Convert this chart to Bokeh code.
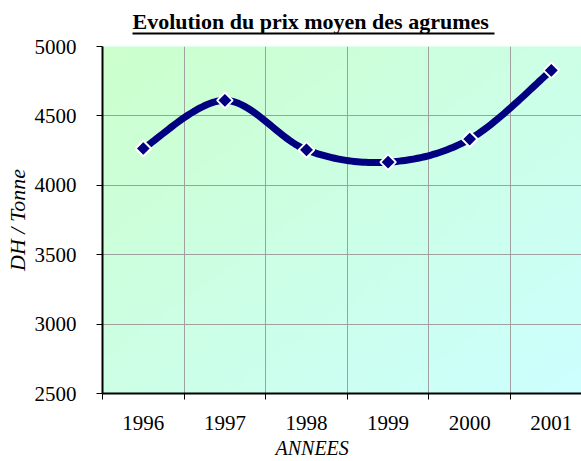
import numpy as np
from bokeh.plotting import figure
from bokeh.models import FixedTicker, Range1d, Title, LinearAxis
from bokeh.embed import file_html
from bokeh.resources import INLINE

# ---- data ----
years = ["1996", "1997", "1998", "1999", "2000", "2001"]
prices = [4265, 4612, 4255, 4167, 4333, 4828]
y_ticks = [2500, 3000, 3500, 4000, 4500, 5000]

title_text = "Evolution du prix moyen des agrumes"
x_title = "ANNEES"
y_title = "DH / Tonne"

SERIF = "Liberation Serif"
W, H = 581, 461
FRAME_L, FRAME_T, FRAME_B = 102, 46, 394
CAT_PX = 81.6

xs = [i + 0.5 for i in range(len(years))]
x_end = (W - FRAME_L) / CAT_PX

p = figure(width=W, height=H, output_backend="svg", toolbar_location=None,
           x_range=Range1d(0, x_end), y_range=Range1d(2500, 5000))
p.min_border_left = FRAME_L
p.min_border_right = 0
p.min_border_top = FRAME_T
p.min_border_bottom = H - FRAME_B
p.outline_line_color = None
p.background_fill_color = "#ccffe6"
p.border_fill_color = "white"

# gradient background (green top-left -> cyan bottom-right)
n = 64
u = np.linspace(0, 1, n)[None, :]
v = np.linspace(0, 1, n)[:, None]  # row 0 = bottom
g = (u + (1 - v)) / 2.0
b = 204 + (255 - 204) * g
img = np.empty((n, n), dtype=np.uint32)
view = img.view(dtype=np.uint8).reshape((n, n, 4))
view[:, :, 0] = 204
view[:, :, 1] = 255
view[:, :, 2] = b.astype(np.uint8)
view[:, :, 3] = 255
p.image_rgba(image=[img], x=0, y=2500, dw=x_end, dh=2500, level="image")

# axes
xa = p.xaxis[0]
xa.ticker = FixedTicker(ticks=xs, minor_ticks=list(range(0, len(years))))
xa.major_label_overrides = {x: yr for x, yr in zip(xs, years)}
xa.major_tick_line_color = None
xa.major_tick_out = 5
xa.minor_tick_in = 0
xa.minor_tick_out = 6
xa.minor_tick_line_color = "black"
xa.major_label_standoff = 16
xa.axis_line_color = "black"
xa.axis_line_width = 2
xa.major_label_text_font = SERIF
xa.major_label_text_font_size = "21px"
xa.major_label_text_color = "black"

ya = p.yaxis[0]
ya.ticker = FixedTicker(ticks=y_ticks, minor_ticks=[])
ya.major_tick_in = 0
ya.major_tick_out = 6
ya.major_tick_line_color = "black"
ya.major_label_standoff = 20
ya.axis_line_color = "black"
ya.axis_line_width = 2
ya.major_label_text_font = SERIF
ya.major_label_text_font_size = "21px"
ya.major_label_text_color = "black"

p.xgrid.ticker = FixedTicker(ticks=list(range(1, len(years))))
p.xgrid.grid_line_color = "#a0a0a0"
p.ygrid.ticker = FixedTicker(ticks=y_ticks)
p.ygrid.grid_line_color = "#a0a0a0"

# title with underline: spacer axis, underline axis (bounded line), then title text
spacer = LinearAxis(ticker=FixedTicker(ticks=[0.1], minor_ticks=[]), axis_line_color=None,
                    major_tick_in=0, major_tick_out=9, minor_tick_in=0, minor_tick_out=0,
                    major_tick_line_color=None, minor_tick_line_color=None,
                    major_label_overrides={0.1: " "}, major_label_standoff=0,
                    major_label_text_font_size="1px")
p.add_layout(spacer, "above")
under = LinearAxis(ticker=FixedTicker(ticks=[], minor_ticks=[]),
                   bounds=((132 - FRAME_L) / CAT_PX, (494 - FRAME_L) / CAT_PX),
                   axis_line_color="black", axis_line_width=2,
                   major_tick_in=0, major_tick_out=0, minor_tick_in=0, minor_tick_out=0,
                   major_tick_line_color=None, minor_tick_line_color=None)
p.add_layout(under, "above")
p.add_layout(Title(text=title_text, align="left", offset=132 - FRAME_L, standoff=0,
                   text_font=SERIF, text_font_size="22px", text_font_style="bold",
                   text_color="black"), "above")

# axis titles
p.add_layout(Title(text=x_title, align="left", offset=275 - FRAME_L, standoff=5,
                   text_font=SERIF, text_font_size="20px", text_font_style="italic",
                   text_color="black"), "below")
p.add_layout(Title(text=y_title, align="center", standoff=3,
                   text_font=SERIF, text_font_size="22px", text_font_style="italic",
                   text_color="black"), "left")

# smoothed line (Excel-like bezier through points)
pts = np.array(list(zip(xs, prices)), dtype=float)
curve_x, curve_y = [], []
m = len(pts)
for i in range(m - 1):
    p0 = pts[i - 1] if i > 0 else pts[i]
    p1 = pts[i]
    p2 = pts[i + 1]
    p3 = pts[i + 2] if i + 2 < m else pts[i + 1]
    c1 = p1 + (p2 - p0) / 6.0
    c2 = p2 - (p3 - p1) / 6.0
    for tt in np.linspace(0, 1, 30):
        pt = ((1 - tt) ** 3) * p1 + 3 * ((1 - tt) ** 2) * tt * c1 + 3 * (1 - tt) * tt * tt * c2 + tt ** 3 * p2
        curve_x.append(pt[0])
        curve_y.append(pt[1])
p.line(curve_x, curve_y, line_color="#000080", line_width=7, line_join="round", line_cap="round")
p.scatter(xs, prices, marker="square", angle=np.pi / 4, size=11,
          fill_color="#000080", line_color="white", line_width=2)

open("out.html", "w").write(file_html(p, INLINE))
